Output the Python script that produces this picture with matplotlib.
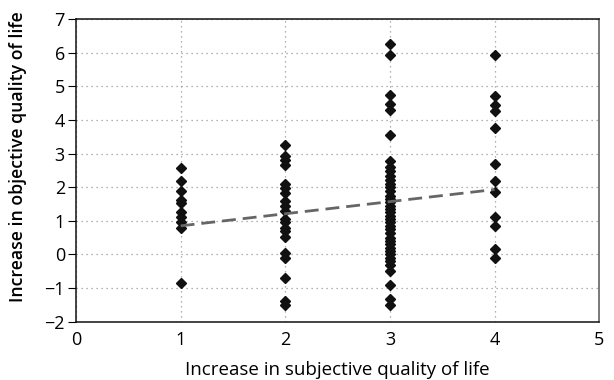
"""Scatter: increase in objective vs subjective quality of life."""
import numpy as np
import matplotlib.pyplot as plt

plt.rcParams['font.family'] = ['Open Sans', 'DejaVu Sans']

# objective increase values per subjective category
obj_at_1 = [2.57, 2.17, 1.89, 1.62, 1.52, 1.27, 1.12, 0.97, 0.78, -0.85]
obj_at_2 = [3.25, 2.92, 2.8, 2.67, 2.1, 1.98, 1.82, 1.6, 1.45, 1.3, 1.05, 0.95,
            0.8, 0.7, 0.52, 0.05, -0.1, -0.7, -1.38, -1.5]
obj_at_3 = [6.25, 5.93, 4.74, 4.48, 4.3, 3.55, 2.77, 2.6, 2.47, 2.32, 2.2, 2.1,
            2.0, 1.9, 1.75, 1.65, 1.55, 1.45, 1.35, 1.25, 1.15, 1.05, 0.95,
            0.85, 0.75, 0.65, 0.5, 0.4, 0.3, 0.2, 0.1, 0.0, -0.1, -0.2, -0.3,
            -0.5, -0.92, -1.31, -1.51]
obj_at_4 = [5.92, 4.7, 4.45, 4.27, 3.75, 2.7, 2.18, 1.85, 1.1, 0.85, 0.15, -0.12]

trend_x = [1, 4]
trend_y = [0.85, 1.93]

x_ticks = [0, 1, 2, 3, 4, 5]
y_ticks = [-2, -1, 0, 1, 2, 3, 4, 5, 6, 7]

fig = plt.figure(figsize=(6.14, 3.8), dpi=100)
ax = fig.add_axes([0.1238, 0.1534, 0.852, 0.7966])

for xv, ys in zip([1, 2, 3, 4], [obj_at_1, obj_at_2, obj_at_3, obj_at_4]):
    ax.plot([xv] * len(ys), ys, 'D', color='#111111', markersize=5.5, zorder=3)

ax.plot(trend_x, trend_y, color='#666666', linewidth=2, dashes=(5, 2.5), zorder=4)

ax.set_xlim(0, 5)
ax.set_ylim(-2, 7)
ax.set_xticks(x_ticks)
ax.set_yticks(y_ticks)
ax.tick_params(axis='x', length=0, pad=7, labelsize=13)
ax.tick_params(axis='y', length=6, direction='out', pad=2, labelsize=13)

ax.grid(True, linestyle=(0, (1, 3)), color='#999999', linewidth=0.9)
ax.set_axisbelow(True)

for side in ['left', 'bottom', 'top']:
    ax.spines[side].set_color('#111111')
    ax.spines[side].set_linewidth(1.1)
ax.spines['right'].set_color('#555555')
ax.spines['right'].set_linewidth(1.1)

ax.set_xlabel('Increase in subjective quality of life', fontsize=13.5)
ax.set_ylabel('Increase in objective quality of life', fontsize=12.7,
              fontweight='semibold')
ax.xaxis.set_label_coords(0.5, -0.16)
ax.xaxis.label.set_va('center')
ax.yaxis.set_label_coords(-0.111, 0.547)
ax.yaxis.label.set_va('center')

fig.savefig('out.png', dpi=100, facecolor='white')
